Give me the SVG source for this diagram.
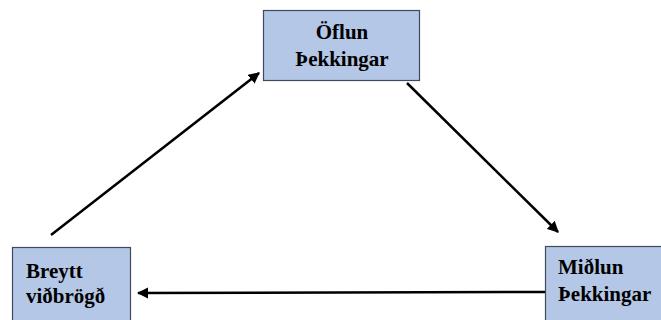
<svg xmlns="http://www.w3.org/2000/svg" width="661" height="320" viewBox="0 0 661 320">
  <style>
    .box { fill: #b4c7e7; stroke: #3f4a5a; stroke-width: 1.2; }
    .lbl { font-weight: 700; font-size: 21px; fill: #000; }
    .edge { stroke: #000; stroke-width: 2.5; fill: none; marker-end: url(#arrow); }
  </style>
  <defs>
    <marker id="arrow" viewBox="0 0 10 10" refX="9" refY="5" markerWidth="4.5" markerHeight="4.5" orient="auto" markerUnits="strokeWidth">
      <path d="M0,0 L10,5 L0,10 Z" fill="#000"/>
    </marker>
  </defs>
  <rect width="661" height="320" fill="#fff"/>

  <g font-family="Liberation Serif, Tinos, DejaVu Serif, serif">
    <g id="node-oflun">
      <rect class="box" x="263.5" y="10.5" width="156" height="70"/>
      <text class="lbl" x="342" y="39" text-anchor="middle">Öflun</text>
      <text class="lbl" x="342" y="66" text-anchor="middle">Þekkingar</text>
    </g>

    <g id="node-midlun">
      <rect class="box" x="545.5" y="246.5" width="120" height="80"/>
      <text class="lbl" x="558" y="274">Miðlun</text>
      <text class="lbl" x="558" y="301">Þekkingar</text>
    </g>

    <g id="node-breytt">
      <rect class="box" x="12.5" y="247.5" width="118" height="80"/>
      <text class="lbl" x="26" y="278">Breytt</text>
      <text class="lbl" x="26" y="303">viðbrögð</text>
    </g>
  </g>

  <g id="connectors">
    <line class="edge" x1="51" y1="235" x2="259" y2="73"/>
    <line class="edge" x1="407" y1="83" x2="558" y2="232"/>
    <line class="edge" x1="545" y1="292" x2="138" y2="293"/>
  </g>
</svg>
